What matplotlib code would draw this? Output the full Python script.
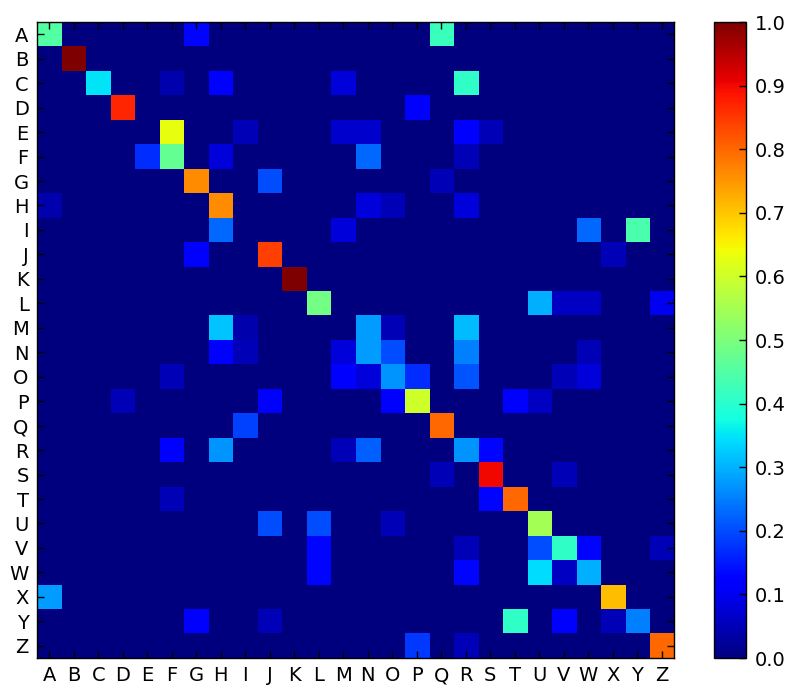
import numpy as np
import matplotlib
matplotlib.use("Agg")
import matplotlib.pyplot as plt

labels = list("ABCDEFGHIJKLMNOPQRSTUVWXYZ")

# rows = true letter, columns = predicted letter (normalised per row)
#             A     B     C     D     E     F     G     H     I     J     K     L     M     N     O     P     Q     R     S     T     U     V     W     X     Y     Z
confusion = np.array([
    [0.45, 0,    0,    0,    0,    0,    0.13, 0,    0,    0,    0,    0,    0,    0,    0,    0,    0.42, 0,    0,    0,    0,    0,    0,    0,    0,    0   ],  # A
    [0,    1.00, 0,    0,    0,    0,    0,    0,    0,    0,    0,    0,    0,    0,    0,    0,    0,    0,    0,    0,    0,    0,    0,    0,    0,    0   ],  # B
    [0,    0,    0.35, 0,    0,    0.04, 0,    0.12, 0,    0,    0,    0,    0.08, 0,    0,    0,    0,    0.41, 0,    0,    0,    0,    0,    0,    0,    0   ],  # C
    [0,    0,    0,    0.87, 0,    0,    0,    0,    0,    0,    0,    0,    0,    0,    0,    0.11, 0,    0,    0,    0,    0,    0,    0,    0,    0,    0   ],  # D
    [0,    0,    0,    0,    0,    0.63, 0,    0,    0.05, 0,    0,    0,    0.07, 0.07, 0,    0,    0,    0.11, 0.05, 0,    0,    0,    0,    0,    0,    0   ],  # E
    [0,    0,    0,    0,    0.17, 0.47, 0,    0.08, 0,    0,    0,    0,    0,    0.23, 0,    0,    0,    0.05, 0,    0,    0,    0,    0,    0,    0,    0   ],  # F
    [0,    0,    0,    0,    0,    0,    0.76, 0,    0,    0.20, 0,    0,    0,    0,    0,    0,    0.05, 0,    0,    0,    0,    0,    0,    0,    0,    0   ],  # G
    [0.04, 0,    0,    0,    0,    0,    0,    0.76, 0,    0,    0,    0,    0,    0.08, 0.05, 0,    0,    0.08, 0,    0,    0,    0,    0,    0,    0,    0   ],  # H
    [0,    0,    0,    0,    0,    0,    0,    0.23, 0,    0,    0,    0,    0.08, 0,    0,    0,    0,    0,    0,    0,    0,    0,    0.23, 0,    0.44, 0   ],  # I
    [0,    0,    0,    0,    0,    0,    0.11, 0,    0,    0.84, 0,    0,    0,    0,    0,    0,    0,    0,    0,    0,    0,    0,    0,    0.05, 0,    0   ],  # J
    [0,    0,    0,    0,    0,    0,    0,    0,    0,    0,    1.00, 0,    0,    0,    0,    0,    0,    0,    0,    0,    0,    0,    0,    0,    0,    0   ],  # K
    [0,    0,    0,    0,    0,    0,    0,    0,    0,    0,    0,    0.49, 0,    0,    0,    0,    0,    0,    0,    0,    0.30, 0.06, 0.06, 0,    0,    0.10],  # L
    [0,    0,    0,    0,    0,    0,    0,    0.32, 0.04, 0,    0,    0,    0,    0.28, 0.05, 0,    0,    0.31, 0,    0,    0,    0,    0,    0,    0,    0   ],  # M
    [0,    0,    0,    0,    0,    0,    0,    0.12, 0.05, 0,    0,    0,    0.08, 0.28, 0.20, 0,    0,    0.25, 0,    0,    0,    0,    0.05, 0,    0,    0   ],  # N
    [0,    0,    0,    0,    0,    0.05, 0,    0,    0,    0,    0,    0,    0.11, 0.08, 0.27, 0.17, 0,    0.21, 0,    0,    0,    0.05, 0.08, 0,    0,    0   ],  # O
    [0,    0,    0,    0.05, 0,    0,    0,    0,    0,    0.11, 0,    0,    0,    0,    0.11, 0.60, 0,    0,    0,    0.11, 0.06, 0,    0,    0,    0,    0   ],  # P
    [0,    0,    0,    0,    0,    0,    0,    0,    0.19, 0,    0,    0,    0,    0,    0,    0,    0.80, 0,    0,    0,    0,    0,    0,    0,    0,    0   ],  # Q
    [0,    0,    0,    0,    0,    0.11, 0,    0.27, 0,    0,    0,    0,    0.05, 0.22, 0,    0,    0,    0.27, 0.13, 0,    0,    0,    0,    0,    0,    0   ],  # R
    [0,    0,    0,    0,    0,    0,    0,    0,    0,    0,    0,    0,    0,    0,    0,    0,    0.05, 0,    0.90, 0,    0,    0.05, 0,    0,    0,    0   ],  # S
    [0,    0,    0,    0,    0,    0.05, 0,    0,    0,    0,    0,    0,    0,    0,    0,    0,    0,    0,    0.13, 0.80, 0,    0,    0,    0,    0,    0   ],  # T
    [0,    0,    0,    0,    0,    0,    0,    0,    0,    0.20, 0,    0.20, 0,    0,    0.05, 0,    0,    0,    0,    0,    0.55, 0,    0,    0,    0,    0   ],  # U
    [0,    0,    0,    0,    0,    0,    0,    0,    0,    0,    0,    0.13, 0,    0,    0,    0,    0,    0.05, 0,    0,    0.20, 0.41, 0.13, 0,    0,    0.05],  # V
    [0,    0,    0,    0,    0,    0,    0,    0,    0,    0,    0,    0.13, 0,    0,    0,    0,    0,    0.13, 0,    0,    0.34, 0.06, 0.30, 0,    0,    0   ],  # W
    [0.28, 0,    0,    0,    0,    0,    0,    0,    0,    0,    0,    0,    0,    0,    0,    0,    0,    0,    0,    0,    0,    0,    0,    0.71, 0,    0   ],  # X
    [0,    0,    0,    0,    0,    0,    0.11, 0,    0,    0.05, 0,    0,    0,    0,    0,    0,    0,    0,    0,    0.41, 0,    0.11, 0,    0.05, 0.25, 0   ],  # Y
    [0,    0,    0,    0,    0,    0,    0,    0,    0,    0,    0,    0,    0,    0,    0,    0.18, 0,    0.05, 0,    0,    0,    0,    0,    0,    0,    0.80],  # Z
])

cbar_ticks = np.round(np.arange(0, 1.01, 0.1), 1)

fig = plt.figure(figsize=(7.91, 6.88), dpi=100)
ax = fig.add_axes([0.0468, 0.0436, 0.8054, 0.9244])
cax = fig.add_axes([0.9027, 0.0436, 0.0405, 0.9244])

im = ax.imshow(confusion, cmap="jet", vmin=0, vmax=1, interpolation="nearest", aspect="auto")

ax.set_xticks(range(len(labels)))
ax.set_yticks(range(len(labels)))
ax.set_xticklabels(labels)
ax.set_yticklabels(labels)
ax.tick_params(direction="in", top=True, right=True, length=5, width=1,
               labelsize=14, color="black", pad=6)
for s in ax.spines.values():
    s.set_linewidth(1)

cb = fig.colorbar(im, cax=cax, ticks=cbar_ticks)
cb.ax.tick_params(direction="in", length=5, width=1, labelsize=14, pad=6)
cb.ax.set_yticklabels([f"{t:.1f}" for t in cbar_ticks])
cb.outline.set_linewidth(1)

fig.savefig("out.png", dpi=100)
